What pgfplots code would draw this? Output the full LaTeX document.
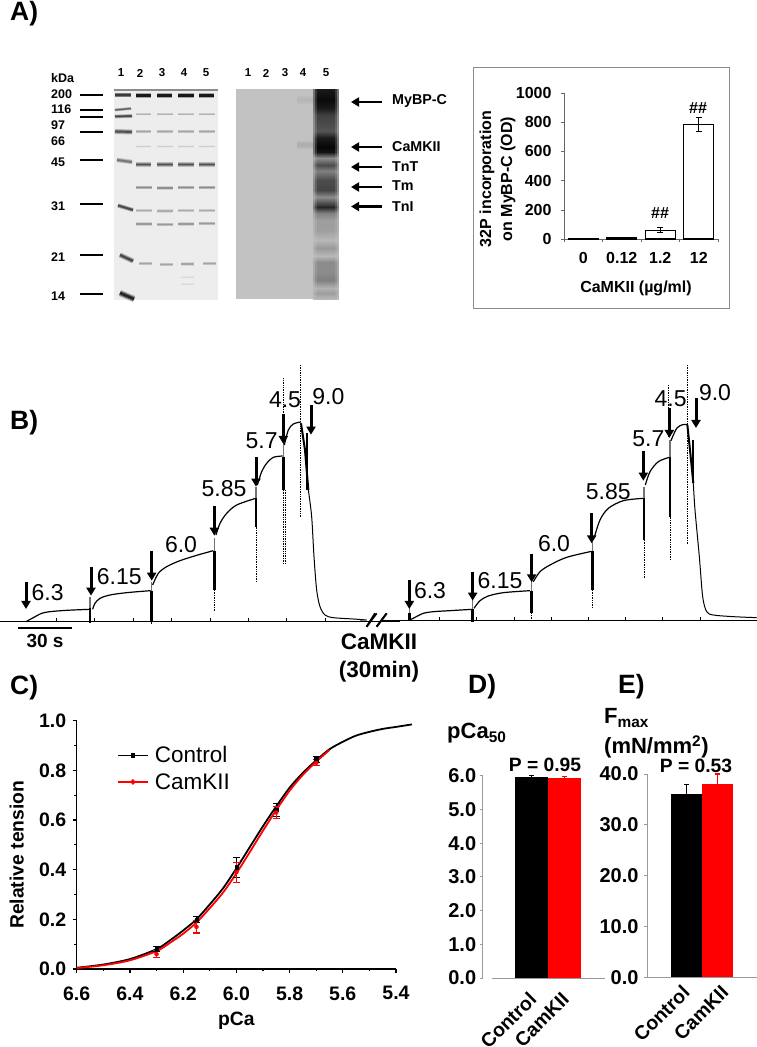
\documentclass[border=0pt]{standalone}
\usepackage{fontspec}
\usepackage{pgfplots}
\usepackage{pgfplotstable}
\pgfplotsset{compat=1.18,unbounded coords=jump}
\usetikzlibrary{arrows.meta}
\setmainfont{Liberation Sans}
\newcommand{\fs}[1]{\fontsize{#1}{#1}\selectfont}
\newcommand{\bfs}[1]{\fontsize{#1}{#1}\selectfont\bfseries}
% text helper
\newcommand{\lab}[5]{\node[anchor=#3,inner sep=0pt,font=#4] at (axis cs:#1,#2) {#5};}
% soft gel band: three layers, wide and pale to narrow and dark
\newcommand{\soft}[3]{%
 \addplot[line width=#1*2.1pt,color=black!\the\numexpr#2*35/100\relax!bgel,forget plot] coordinates {#3};
 \addplot[line width=#1*1.4pt,color=black!\the\numexpr#2*70/100\relax!bgel,forget plot] coordinates {#3};
 \addplot[line width=#1*.8pt,color=black!\the\numexpr#2+5\relax!bgel,forget plot] coordinates {#3};}
\definecolor{bgel}{gray}{0.93}
\definecolor{bblot}{gray}{0.76}
\newcommand{\softb}[3]{%
 \addplot[line width=#1*2.6pt,color=black!\the\numexpr#2/2\relax!bblot,forget plot] coordinates {#3};
 \addplot[line width=#1*1.4pt,color=black!#2!bblot,forget plot] coordinates {#3};}
\newcommand{\varrow}[3]{\addplot[-{Triangle[width=9pt,length=8pt]},line width=3pt,black,forget plot] coordinates {(#1,#2)(#1,#3)};}
\newcommand{\harrow}[1]{\addplot[-{Triangle[width=9pt,length=8pt]},line width=2.2pt,black,forget plot] coordinates {(382,#1)(351,#1)};}
\newcommand{\tr}[1]{\addplot[black,line width=1.2pt,smooth,forget plot] coordinates {#1};}
\newcommand{\spk}[5]{% x, top of pale part, top of black, bottom of black, bottom of dots
 \addplot[black!55,line width=1.6pt,forget plot] coordinates {(#1,#2)(#1,#3)};
 \addplot[black,line width=2.6pt,forget plot] coordinates {(#1,#3)(#1,#4)};
 \addplot[black,line width=.7pt,densely dotted,forget plot] coordinates {(#1,#4)(#1,#5)};}
\pgfplotstableread{
c y g
0 89 .10
1 89 .10
0 100 .04
1 100 .04
0 108 .10
1 108 .10
0 115 .25
1 115 .25
0 125 .30
1 125 .30
0 131 .33
1 131 .33
0 138 .10
1 138 .10
0 147 .02
1 147 .02
0 152 .08
1 152 .08
0 158 .55
1 158 .55
0 165 .30
1 165 .30
0 171 .50
1 171 .50
0 180 .30
1 180 .30
0 190 .27
1 190 .27
0 197 .55
1 197 .55
0 207 .15
1 207 .15
0 213 .50
1 213 .50
0 220 .62
1 220 .62
0 230 .62
1 230 .62
0 240 .72
1 240 .72
0 248 .60
1 248 .60
0 256 .72
1 256 .72
0 262 .55
1 262 .55
0 272 .55
1 272 .55
0 280 .50
1 280 .50
0 288 .70
1 288 .70
0 293 .62
1 293 .62
0 299 .72
1 299 .72
}\lanefive
\pgfplotstableread{
p t
6.60 0.005
6.50 0.018
6.40 0.040
6.30 0.080
6.25 0.115
6.20 0.155
6.15 0.200
6.10 0.260
6.05 0.325
6.00 0.405
5.95 0.490
5.90 0.575
5.85 0.655
5.80 0.730
5.75 0.790
5.70 0.840
5.65 0.885
5.60 0.915
5.55 0.940
5.50 0.955
5.45 0.967
5.40 0.975
5.34 0.985
}\ctrlcurve
\pgfplotstableread{
p t
6.60 0.004
6.50 0.015
6.40 0.035
6.30 0.072
6.25 0.105
6.20 0.142
6.15 0.187
6.10 0.245
6.05 0.308
6.00 0.385
5.95 0.470
5.90 0.557
5.85 0.640
5.80 0.718
5.75 0.782
5.70 0.835
5.65 0.882
}\camcurve
\pgfplotstableread{
p t e
6.30 0.08 0.010
6.15 0.20 0.012
6.00 0.41 0.040
5.85 0.64 0.025
5.70 0.845 0.012
}\ctrlpts
\pgfplotstableread{
p t e
6.30 0.06 0.015
6.15 0.17 0.025
6.00 0.39 0.040
5.85 0.63 0.025
5.70 0.83 0.012
}\campts
\begin{document}
\begin{tikzpicture}
\path[use as bounding box] (0,0) rectangle (757pt,1047pt);
% ===== master axis in pixel coordinates =====
\begin{axis}[scale only axis,width=757pt,height=1047pt,at={(0,0)},anchor=south west,
  xmin=0,xmax=757,ymin=0,ymax=1047,y dir=reverse,hide axis,clip=false,
  colormap={gr}{gray(0cm)=(0); gray(1cm)=(1)},point meta min=0,point meta max=1]
\lab{10}{14}{west}{\bfs{26.5}}{A)}
\lab{10}{423}{west}{\bfs{26.5}}{B)}
\lab{10}{688}{west}{\bfs{26.5}}{C)}
\lab{468}{687}{west}{\bfs{26.5}}{D)}
\lab{618}{687}{west}{\bfs{26.5}}{E)}
% gel backgrounds
\addplot[fill=bgel,draw=none,forget plot] coordinates {(114,89)(218,89)(218,300)(114,300)};
\addplot[fill=bblot,draw=none,forget plot] coordinates {(236,89)(338,89)(338,299)(236,299)};
\addplot[line width=2.5pt,black!45,forget plot] coordinates {(114,90)(218,90)};
% lane 1
\soft{2.2}{70}{(115,95)(131,95)}
\soft{1.4}{55}{(115,110)(131,108.5)}
\soft{1.8}{65}{(115,116.5)(132,116)}
\soft{2.4}{60}{(115,131.5)(132,132)}
\soft{2.2}{45}{(117,160)(132,162)}
\soft{2}{65}{(118,205.5)(133,210)}
\soft{2.4}{65}{(120,255)(133,261)}
\soft{3}{80}{(120,293)(134,299)}
% lanes 2-5
\soft{2.6}{85}{(136,95.5)(151,95.5) (0,nan) (157,95.5)(172,95.5) (0,nan) (178,95.5)(194,95.5) (0,nan) (199,95.5)(214,95.5)}
\soft{1}{20}{(136,114)(151,114) (0,nan) (157,114)(173,114) (0,nan) (178,114)(194,114) (0,nan) (199,114)(215,114)}
\soft{1.6}{25}{(136,131.5)(151,131.5) (0,nan) (157,131.5)(173,131.5) (0,nan) (178,131.5)(194,131.5) (0,nan) (199,131.5)(215,131.5)}
\soft{1}{8}{(136,146.5)(151,146.5) (0,nan) (157,146.5)(173,146.5) (0,nan) (178,146.5)(194,146.5) (0,nan) (199,146.5)(215,146.5)}
\soft{2.4}{62}{(136,164.5)(151,164.5) (0,nan) (157,164.5)(173,164.5) (0,nan) (178,164.5)(194,164.5) (0,nan) (199,164.5)(215,164.5)}
\soft{1.7}{35}{(136,187.5)(152,187.5) (0,nan) (157,188)(173,188) (0,nan) (178,187.5)(194,187.5) (0,nan) (199,187.5)(215,187.5)}
\soft{1.5}{22}{(136,210.5)(152,210.5) (0,nan) (157,211)(173,211) (0,nan) (178,210.5)(194,210.5) (0,nan) (199,210.5)(215,210.5)}
\soft{1.6}{30}{(136,224)(152,224) (0,nan) (157,224.5)(173,224.5) (0,nan) (178,224)(194,224) (0,nan) (199,223.5)(215,223.5)}
\soft{1.5}{25}{(139,263.5)(152,263.5) (0,nan) (160,264.5)(173,264.5) (0,nan) (181,264)(194,264) (0,nan) (203,263.5)(216,263.5)}
\soft{1}{4}{(181,277)(194,277) (0,nan) (181,284)(194,284)}
% blot
\softb{3}{6}{(297,100)(313,100)}
\softb{3}{9}{(297,145)(314,145)}
\addplot[surf,shader=interp,mesh/cols=2,point meta={0.76-0.45*(0.76-\thisrow{g})},forget plot] table[x expr={313+25*\thisrow{c}},y=y] {\lanefive};
\addplot[surf,shader=interp,mesh/cols=2,point meta={0.76-0.8*(0.76-\thisrow{g})},forget plot] table[x expr={315+21*\thisrow{c}},y=y] {\lanefive};
\addplot[surf,shader=interp,mesh/cols=2,point meta={\thisrow{g}},forget plot] table[x expr={317+17*\thisrow{c}},y=y] {\lanefive};
% marker lines and weights
\addplot[black,line width=2pt,forget plot] coordinates {(80,95)(103,95) (0,nan) (80,110)(103,110) (0,nan) (80,117)(103,117) (0,nan) (80,132)(103,132) (0,nan) (80,160)(103,160) (0,nan) (80,204)(103,204) (0,nan) (80,255)(103,255) (0,nan) (80,294)(103,294)};
\lab{51}{78}{west}{\bfs{12.5}}{kDa}
\lab{51}{94}{west}{\bfs{12.5}}{200}
\lab{51}{109}{west}{\bfs{12.5}}{116}
\lab{51}{125}{west}{\bfs{12.5}}{97}
\lab{51}{141}{west}{\bfs{12.5}}{66}
\lab{51}{162}{west}{\bfs{12.5}}{45}
\lab{51}{206}{west}{\bfs{12.5}}{31}
\lab{51}{257}{west}{\bfs{12.5}}{21}
\lab{51}{296}{west}{\bfs{12.5}}{14}
\lab{121}{73}{center}{\bfs{11.5}}{1}\lab{140}{73}{center}{\bfs{11.5}}{2}\lab{162}{73}{center}{\bfs{11.5}}{3}\lab{184}{73}{center}{\bfs{11.5}}{4}\lab{206}{73}{center}{\bfs{11.5}}{5}
\lab{248}{73}{center}{\bfs{11.5}}{1}\lab{266}{73}{center}{\bfs{11.5}}{2}\lab{285}{73}{center}{\bfs{11.5}}{3}\lab{303}{73}{center}{\bfs{11.5}}{4}\lab{326}{73}{center}{\bfs{11.5}}{5}
\harrow{102}\harrow{147}\harrow{167}\harrow{187}\harrow{206.5}
\lab{392}{101}{west}{\bfs{14.3}}{MyBP-C}
\lab{392}{147}{west}{\bfs{14.3}}{CaMKII}
\lab{392}{167}{west}{\bfs{14.3}}{TnT}
\lab{392}{186}{west}{\bfs{14.3}}{Tm}
\lab{392}{207}{west}{\bfs{14.3}}{TnI}
% inset frame
\addplot[black!45,line width=.9pt,forget plot] coordinates {(473,67)(729,67)(729,308)(473,308)(473,67)};
\node[rotate=90,font=\bfs{16},inner sep=0pt] at (axis cs:487,179) {32P incorporation};
\node[rotate=90,font=\bfs{16},inner sep=0pt] at (axis cs:508,179) {on MyBP-C (OD)};
\lab{636}{288}{center}{\bfs{16}}{CaMKII (µg/ml)}
\lab{698}{108}{center}{\bfs{16}}{\#\#}
\lab{660}{213}{center}{\bfs{16}}{\#\#}
% B labels
\lab{379}{642}{center}{\bfs{22.5}}{CaMKII}
\lab{379}{672}{center}{\bfs{22.5}}{(30min)}
% D/E labels
\node[anchor=west,inner sep=0pt,font=\bfs{22}] at (axis cs:447,733) {pCa\textsubscript{50}};
\node[anchor=west,inner sep=0pt,font=\bfs{22}] at (axis cs:604,718) {F\textsubscript{max}};
\node[anchor=west,inner sep=0pt,font=\bfs{22}] at (axis cs:604,747) {(mN/mm\textsuperscript{2})};
\lab{545}{765}{center}{\bfs{19.3}}{P = 0.95}
\lab{696}{766}{center}{\bfs{19.3}}{P = 0.53}
\end{axis}
% ===== inset bar chart =====
\begin{axis}[scale only axis,width=154pt,height=146pt,at={(564pt,808pt)},anchor=south west,
  xmin=0,xmax=4,ymin=0,ymax=1000,clip=false,
  axis lines=left,x axis line style={black!60,-},y axis line style={black!60,-},
  xtick={0,1,2,3,4},xticklabels={},extra x ticks={.5,1.5,2.5,3.5},extra x tick labels={0,0.12,1.2,12},
  extra x tick style={major tick length=0pt,tick label style={yshift=-10pt}},
  ytick={0,200,400,600,800,1000},tick style={black!60},tick align=outside,major tick length=3pt,
  tick label style={font=\bfs{16}},/pgf/number format/assume math mode=true,/pgf/number format/1000 sep={},
  yticklabel style={xshift=-6pt}]
\addplot[ybar,bar width=30pt,bar shift=0pt,fill=white,draw=black,line width=1.3pt,
  error bars/.cd,y dir=both,y explicit,error bar style={black,line width=.8pt},error mark options={black,mark size=3pt,rotate=90,line width=.8pt}]
  coordinates {(.5,1) +- (0,1) (1.5,6) +- (0,2) (2.5,60) +- (0,18) (3.5,785) +- (0,45)};
\end{axis}
% ===== B left trace =====
\begin{axis}[scale only axis,width=400pt,height=340pt,at={(0pt,357pt)},anchor=south west,
  xmin=0,xmax=1200,ymin=0,ymax=1020,y dir=reverse,hide axis,clip=false]
\addplot[black,line width=.9pt,forget plot] coordinates {(0,813)(1200,813)};
\addplot[black,line width=.7pt,forget plot] coordinates {(168,813)(168,804) (0,nan) (283,813)(283,804) (0,nan) (400,813)(400,804) (0,nan) (515,813)(515,804) (0,nan) (630,813)(630,804) (0,nan) (745,813)(745,804) (0,nan) (860,813)(860,804) (0,nan) (975,813)(975,804)};
\tr{(78,815)(100,803)(125,790)(150,785)(200,781)(268,778)}
\spk{270}{740}{775}{820}{820}
\tr{(278,778)(285,760)(300,745)(330,735)(380,728)(452,722)}
\spk{455}{695}{722}{815}{822}
\tr{(458,705)(475,670)(500,650)(540,632)(590,616)(640,602)}
\spk{643}{565}{602}{720}{785}
\tr{(648,555)(660,520)(680,490)(710,465)(767,445)}
\spk{768}{410}{445}{530}{695}
\tr{(772,405)(785,365)(800,340)(820,322)(848,318)}
\spk{850}{270}{320}{420}{640}
\addplot[black,line width=.7pt,densely dotted,forget plot] coordinates {(850,85)(850,270)};
\tr{(853,285)(865,240)(880,222)(902,216)}
\addplot[black,line width=.7pt,densely dotted,forget plot] coordinates {(902,45)(902,500)};
\addplot[black,line width=2pt,forget plot] coordinates {(903,220)(915,300)(925,420)};
\addplot[black,line width=2pt,forget plot] coordinates {(922,250)(922,420)};
\addplot[black,line width=1pt,smooth,forget plot] coordinates {(925,420)(935,500)(942,620)(950,720)(960,770)(975,795)(1000,803)(1060,807)(1100,810)};
\addplot[black,line width=.7pt,densely dotted,forget plot] coordinates {(855,420)(855,640)};
\varrow{78}{695}{777}\varrow{273}{650}{737}\varrow{455}{602}{692}\varrow{643}{468}{557}\varrow{768}{322}{410}\varrow{850}{192}{282}\varrow{933}{165}{254}
\lab{143}{727}{center}{\fs{23}}{6.3}
\lab{358}{680}{center}{\fs{23}}{6.15}
\lab{543}{583}{center}{\fs{23}}{6.0}
\lab{672}{415}{center}{\fs{23}}{5.85}
\lab{785}{272}{center}{\fs{23}}{5.7}
\lab{855}{148}{center}{\fs{23}}{4.5}
\lab{985}{140}{center}{\fs{23}}{9.0}
\addplot[black,line width=2pt,forget plot] coordinates {(55,833)(215,833)};
\lab{135}{872}{center}{\bfs{19}}{30 s}
\addplot[black,line width=1.8pt,forget plot] coordinates {(1100,830)(1125,790) (0,nan) (1130,830)(1160,790)};
\end{axis}
% ===== B right trace =====
\begin{axis}[scale only axis,width=397pt,height=340pt,at={(360pt,357pt)},anchor=south west,
  xmin=0,xmax=1191,ymin=0,ymax=1020,y dir=reverse,hide axis,clip=false]
\addplot[black,line width=.9pt,forget plot] coordinates {(60,810)(1191,810)};
\addplot[black,line width=.7pt,forget plot] coordinates {(238,810)(238,801) (0,nan) (350,810)(350,801) (0,nan) (462,810)(462,801) (0,nan) (574,810)(574,801) (0,nan) (685,810)(685,801) (0,nan) (797,810)(797,801) (0,nan) (908,810)(908,801) (0,nan) (1020,810)(1020,801)};
\tr{(150,810)(165,802)(190,790)(220,785)(270,782)(335,778)}
\spk{148}{775}{790}{812}{812}
\spk{337}{745}{778}{815}{815}
\tr{(342,775)(360,752)(385,738)(430,728)(510,722)}
\spk{515}{695}{722}{790}{815}
\tr{(520,695)(540,665)(570,645)(620,622)(695,604)}
\spk{697}{575}{604}{720}{775}
\tr{(702,565)(720,510)(745,475)(790,452)(850,445)}
\spk{852}{410}{445}{570}{685}
\tr{(856,405)(870,365)(895,335)(928,322)}
\spk{930}{270}{322}{500}{630}
\addplot[black,line width=.7pt,densely dotted,forget plot] coordinates {(925,105)(925,262)};
\tr{(933,272)(950,235)(968,224)(982,224)}
\addplot[black,line width=.7pt,densely dotted,forget plot] coordinates {(981,45)(981,585)};
\addplot[black,line width=2pt,forget plot] coordinates {(982,224)(990,300)(1000,400)};
\addplot[black,line width=2pt,forget plot] coordinates {(1000,270)(1000,400)};
\addplot[black,line width=1pt,smooth,forget plot] coordinates {(1000,400)(1005,480)(1018,620)(1028,740)(1040,785)(1060,795)(1120,800)(1190,803)};
\varrow{148}{690}{777}\varrow{338}{665}{752}\varrow{515}{612}{697}\varrow{695}{490}{580}\varrow{850}{303}{392}\varrow{928}{175}{264}\varrow{1008}{145}{234}
\lab{210}{722}{center}{\fs{23}}{6.3}
\lab{420}{692}{center}{\fs{23}}{6.15}
\lab{582}{582}{center}{\fs{23}}{6.0}
\lab{745}{425}{center}{\fs{23}}{5.85}
\lab{865}{265}{center}{\fs{23}}{5.7}
\lab{932}{145}{center}{\fs{23}}{4.5}
\lab{1065}{128}{center}{\fs{23}}{9.0}
\addplot[black,line width=1.8pt,forget plot] coordinates {(20,830)(50,790) (0,nan) (50,830)(80,790)};
\addplot[black!50,line width=.8pt,forget plot] coordinates {(0,810)(20,810)};
\end{axis}
% ===== C =====
\begin{axis}[scale only axis,width=319.3pt,height=248.3pt,at={(76.7pt,78pt)},anchor=south west,
  xmin=-6.6,xmax=-5.4,ymin=0,ymax=1,clip=false,
  axis lines=left,x axis line style={black,line width=1.4pt,-},y axis line style={black,line width=1.4pt,-},
  xtick={-6.6,-6.4,-6.2,-6.0,-5.8,-5.6,-5.4},xticklabels={6.6,6.4,6.2,6.0,5.8,5.6,5.4},
  minor xtick={-6.5,-6.3,-6.1,-5.9,-5.7,-5.5},
  ytick={0,.2,.4,.6,.8,1},minor ytick={.1,.3,.5,.7,.9},
  tick align=outside,major tick length=4pt,minor tick length=2.5pt,
  tick style={black,line width=1.2pt},
  tick label style={font=\bfs{19.5}},
  x tick label style={yshift=-10pt},y tick label style={xshift=-3pt},
  /pgf/number format/assume math mode=true,/pgf/number format/fixed,/pgf/number format/fixed zerofill,/pgf/number format/precision=1,
  xlabel={pCa},ylabel={Relative tension},
  label style={font=\bfs{19.3}},
  xlabel style={at={(axis description cs:0.5,0)},anchor=center,yshift=-52pt},
  ylabel style={at={(axis description cs:0,0.46)},anchor=center,yshift=60pt},
  legend style={at={(0.126,0.905)},anchor=north west,draw=none,fill=none,inner sep=0pt,font=\fs{22.5},
    row sep=5pt,column sep=4pt},
  legend cell align=left,
  legend image code/.code={\draw[mark repeat=2,mark phase=2,#1] plot coordinates {(0pt,0pt)(15pt,0pt)(30pt,0pt)};}]
\addplot[black,line width=1.8pt,smooth,forget plot] table[x expr=-\thisrow{p},y=t] {\ctrlcurve};
\addplot[red,line width=1.8pt,smooth,forget plot] table[x expr=-\thisrow{p},y=t] {\camcurve};
\addplot[only marks,black,mark=square*,mark size=1.6pt,forget plot,
  error bars/.cd,y dir=both,y explicit,error bar style={black,line width=1.1pt},error mark options={black,mark size=3.5pt,rotate=90,line width=1.1pt}]
  table[x expr=-\thisrow{p},y=t,y error=e] {\ctrlpts};
\addplot[only marks,red,mark=*,mark size=2pt,forget plot,
  error bars/.cd,y dir=both,y explicit,error bar style={red,line width=1.1pt},error mark options={red,mark size=3.5pt,rotate=90,line width=1.1pt}]
  table[x expr=-\thisrow{p},y=t,y error=e] {\campts};
\addlegendimage{black,line width=1.7pt,mark=square*,mark size=1.4pt}
\addlegendentry{Control}
\addlegendimage{red,line width=1.7pt,mark=*,mark size=1.7pt}
\addlegendentry{CamKII}
\end{axis}
% ===== D =====
\begin{axis}[scale only axis,width=122pt,height=202.3pt,at={(482.7pt,69pt)},anchor=south west,
  xmin=-1.47,xmax=2.227,ymin=0,ymax=6,clip=false,
  axis lines=left,x axis line style={draw=none,-},y axis line style={black!40,line width=.8pt,-},
  xtick={0,1},xticklabels={Control,CamKII},
  ytick={0,1,2,3,4,5,6},tick align=outside,major tick length=3pt,
  ytick style={black!40,line width=.8pt},xtick style={draw=none},
  tick label style={font=\bfs{20}},
  /pgf/number format/assume math mode=true,/pgf/number format/fixed,/pgf/number format/fixed zerofill,/pgf/number format/precision=1,
  x tick label style={rotate=45,anchor=north east,font=\bfs{19.5},xshift=-6pt,yshift=-1pt}]
\addplot[black!40,line width=.8pt,forget plot] coordinates {(-1.197,0)(2.227,0)};
\addplot[ybar,bar width=33pt,bar shift=0pt,fill=black,draw=none,
  error bars/.cd,y dir=plus,y explicit,error bar style={black,line width=1pt},error mark options={black,mark size=2.5pt,rotate=90,line width=1pt}]
  coordinates {(0,5.95) +- (0,.05)};
\addplot[ybar,bar width=33pt,bar shift=0pt,fill=red,draw=none,
  error bars/.cd,y dir=plus,y explicit,error bar style={red,line width=1pt},error mark options={red,mark size=2.5pt,rotate=90,line width=1pt}]
  coordinates {(1,5.93) +- (0,.06)};
\end{axis}
% ===== E =====
\begin{axis}[scale only axis,width=110pt,height=203.3pt,at={(647pt,69.7pt)},anchor=south west,
  xmin=-1.265,xmax=2.284,ymin=0,ymax=40,clip=false,
  axis lines=left,x axis line style={black!40,line width=.8pt,-},y axis line style={black!40,line width=.8pt,-},
  xtick={-.26,1},xticklabels={Control,CamKII},
  ytick={0,10,20,30,40},tick align=outside,major tick length=3pt,
  ytick style={black!40,line width=.8pt},xtick style={draw=none},
  tick label style={font=\bfs{20}},
  y tick label style={xshift=-2pt},
  /pgf/number format/assume math mode=true,/pgf/number format/fixed,/pgf/number format/fixed zerofill,/pgf/number format/precision=1,
  x tick label style={rotate=45,anchor=north east,font=\bfs{19.5},xshift=3pt,yshift=-1pt}]
\addplot[ybar,bar width=31pt,bar shift=0pt,fill=black,draw=none,
  error bars/.cd,y dir=plus,y explicit,error bar style={black,line width=1.1pt},error mark options={black,mark size=2.5pt,rotate=90,line width=1.1pt}]
  coordinates {(0,36) +- (0,2)};
\addplot[ybar,bar width=31pt,bar shift=0pt,fill=red,draw=none,
  error bars/.cd,y dir=plus,y explicit,error bar style={red,line width=1.1pt},error mark options={red,mark size=2.5pt,rotate=90,line width=1.1pt}]
  coordinates {(1,38.1) +- (0,1.9)};
\end{axis}
\end{tikzpicture}
\end{document}
